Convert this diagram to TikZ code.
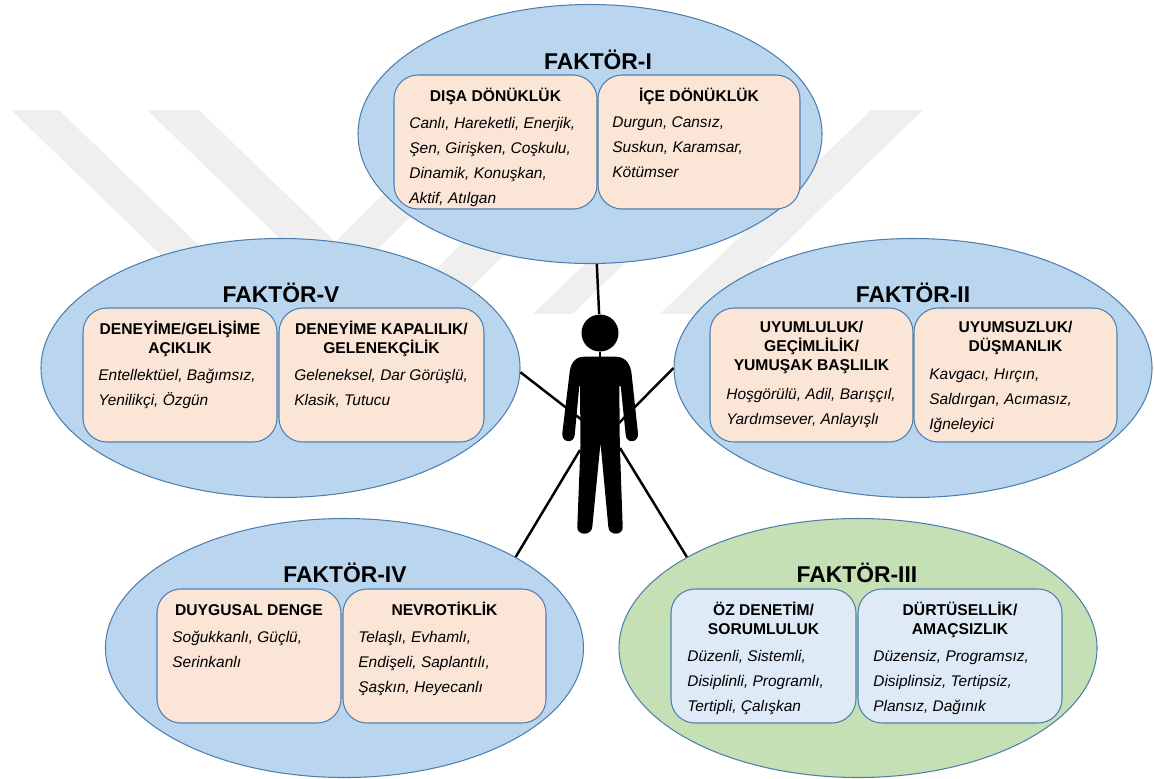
\documentclass[tikz,border=0pt]{standalone}
\usepackage{fontspec}
\setmainfont{Liberation Sans}
\usetikzlibrary{shapes.geometric}
\definecolor{factorblue}{HTML}{BAD5EE}
\definecolor{factorgreen}{HTML}{C5E0B4}
\definecolor{boxorange}{HTML}{FBE5D6}
\definecolor{boxblue}{HTML}{DEEBF7}
\definecolor{edgeblue}{HTML}{4F7FAE}
\definecolor{markgray}{HTML}{EFEFEF}
\def\pxu{0.02cm}

\begin{document}
\begin{tikzpicture}[x=\pxu,y=-\pxu]
    \tikzstyle{factor}=[ellipse,draw=edgeblue,line width=0.6pt,minimum height=259*\pxu,inner sep=0pt]
    \tikzstyle{subbox}=[rectangle,rounded corners=24*\pxu,draw=edgeblue,line width=0.6pt,minimum height=134*\pxu,inner sep=0pt]
    \tikzstyle{title}=[anchor=base,inner sep=0pt,font=\fontsize{13}{15}\selectfont\bfseries]
    \tikzstyle{header}=[anchor=north,inner sep=0pt,align=center,font=\fontsize{8.9}{10.8}\selectfont\bfseries,execute at begin node=\rule{0pt}{8pt}]
    \tikzstyle{traits}=[anchor=north west,inner sep=0pt,align=left,font=\fontsize{8.8}{14.3}\selectfont\itshape,execute at begin node=\rule{0pt}{8pt}]
    \tikzstyle{link}=[black,line width=1.4pt]
    \useasboundingbox (0,0) rectangle (1155,778);

    \foreach \xa/\xb/\xc/\xd in {11/59/270/222, 147/199/410/358, 468/518/313/263, 596/650/445/391, 744/785/572/533, 871/923/712/660}
        \fill[markgray] (\xa,110) -- (\xb,110) -- (\xc,314) -- (\xd,314) -- cycle;

    \foreach \num/\x/\y/\wid/\shade in {1/590/134/464/factorblue, 5/280.5/368/479/factorblue, 2/913/368/478/factorblue, 4/344.5/648/478/factorblue, 3/858/648/478/factorgreen}
        \node[factor,fill=\shade,minimum width=\wid*\pxu] (F-\num) at (\x,\y) {};

    \foreach \id/\x/\y/\wid/\shade in {1a/495.5/142/203/boxorange, 1b/699/142/202/boxorange, 5a/180/375/194/boxorange, 5b/381.5/375/205/boxorange, 2a/811.5/375/203/boxorange, 2b/1015.5/375/203/boxorange, 4a/249/656/184/boxorange, 4b/444.5/656/203/boxorange, 3a/763.5/656/185/boxblue, 3b/960/656/204/boxblue}
        \node[subbox,fill=\shade,minimum width=\wid*\pxu] (B-\id) at (\x,\y) {};

    \foreach \num/\x/\y/\txt in {1/598/69/FAKTÖR-I, 5/281/302.5/FAKTÖR-V, 2/913/302.5/FAKTÖR-II, 4/345/582.5/FAKTÖR-IV, 3/857/582.5/FAKTÖR-III}
        \node[title] (T-\num) at (\x,\y) {\txt};

    \foreach \id/\x/\y/\txt in {1a/495.5/87.5/{DIŞA DÖNÜKLÜK}, 1b/699/87.5/{İÇE DÖNÜKLÜK}, 5a/180/320.5/{DENEYİME/GELİŞİME\\AÇIKLIK}, 5b/381.5/320.5/{DENEYİME KAPALILIK/\\GELENEKÇİLİK}, 2a/811.5/320.5/{UYUMLULUK/\\GEÇİMLİLİK/\\YUMUŞAK BAŞLILIK}, 2b/1015.5/320.5/{UYUMSUZLUK/\\DÜŞMANLIK}, 4a/249/601.5/{DUYGUSAL DENGE}, 4b/444.5/601.5/{NEVROTİKLİK}, 3a/763.5/601.5/{ÖZ DENETİM/\\SORUMLULUK}, 3b/960/601.5/{DÜRTÜSELLİK/\\AMAÇSIZLIK}}
        \node[header] (H-\id) at (\x,\y) {\txt};

    \foreach \id/\x/\y/\txt in {1a/409/116.5/{Canlı, Hareketli, Enerjik,\\Şen, Girişken, Coşkulu,\\Dinamik, Konuşkan,\\Aktif, Atılgan}, 1b/612/116.5/{Durgun, Cansız,\\Suskun, Karamsar,\\Kötümser}, 5a/98/368.5/{Entellektüel, Bağımsız,\\Yenilikçi, Özgün}, 5b/294/368.5/{Geleneksel, Dar Görüşlü,\\Klasik, Tutucu}, 2a/726/387.5/{Hoşgörülü, Adil, Barışçıl,\\Yardımsever, Anlayışlı}, 2b/929/368.5/{Kavgacı, Hırçın,\\Saldırgan, Acımasız,\\Iğneleyici}, 4a/172/630.5/{Soğukkanlı, Güçlü,\\Serinkanlı}, 4b/358/630.5/{Telaşlı, Evhamlı,\\Endişeli, Saplantılı,\\Şaşkın, Heyecanlı}, 3a/687/649.5/{Düzenli, Sistemli,\\Disiplinli, Programlı,\\Tertipli, Çalışkan}, 3b/873/649.5/{Düzensiz, Programsız,\\Disiplinsiz, Tertipsiz,\\Plansız, Dağınık}}
        \node[traits] (L-\id) at (\x,\y) {\txt};

    \node[circle,fill=black,minimum size=37*\pxu,inner sep=0pt] (head) at (600,333) {};
    \coordinate (P-5) at (582,420);
    \coordinate (P-2) at (619,423);
    \coordinate (P-4) at (580,450);
    \coordinate (P-3) at (620,448);
    \coordinate (neck) at (600,358);

    \foreach \from/\to in {F-1.-87/head, F-5.-1/P-5, F-2.180/P-2, F-4.28/P-4, F-3.152/P-3}
        \draw[link] (\from) -- (\to);
    \draw[line width=1pt] (head) -- (neck);

    \fill[black] (600,356.7) -- (584,356.7) .. controls (574,356.7) and (570,365) .. (569.3,375)
        -- (562.3,433.3) .. controls (561.5,443) and (574,444) .. (574.7,435)
        -- (579.3,386) -- (580,386) -- (580.5,445) -- (577.3,526.7)
        .. controls (576.5,536) and (592,536) .. (592.3,526.7)
        -- (600.3,445) -- (600.7,445) -- (608.3,526.7)
        .. controls (608.6,536) and (623.5,536) .. (622.7,526.7)
        -- (619.8,445) -- (619.3,386) -- (620.7,386) -- (625.7,435)
        .. controls (626.4,444) and (638.8,443) .. (638,433.3)
        -- (631.7,375) .. controls (631,365) and (626,356.7) .. (616,356.7) -- cycle;
\end{tikzpicture}
\end{document}
